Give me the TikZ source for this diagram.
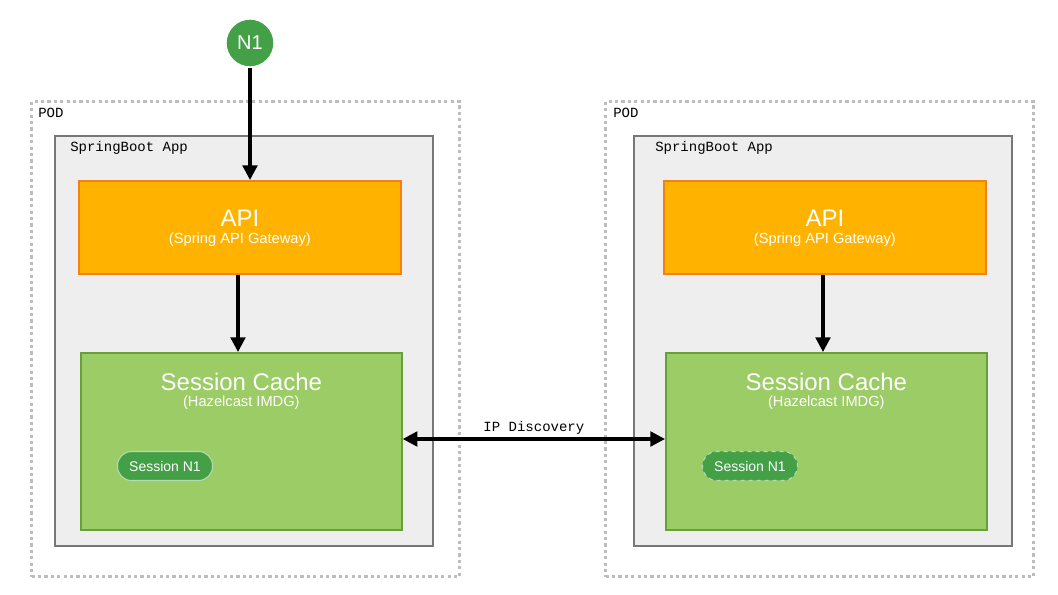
\documentclass[tikz,border=0pt]{standalone}
\usepackage{fontspec}
\setmainfont{Liberation Sans}
\newfontfamily\monofont{Liberation Mono}
\usetikzlibrary{positioning,calc,arrows.meta}
\definecolor{podgray}{HTML}{BDBDBD}
\definecolor{appgray}{HTML}{777777}
\definecolor{appfill}{HTML}{EEEEEE}
\definecolor{apifill}{HTML}{FFB300}
\definecolor{apiline}{HTML}{F57F17}
\definecolor{cachefill}{HTML}{9CCC65}
\definecolor{cacheline}{HTML}{689F38}
\definecolor{sessfill}{HTML}{43A047}
\tikzset{
  pod/.style={draw=podgray, line width=2.4pt, dash pattern=on 2.4pt off 2.4pt, minimum width=428*0.75pt, minimum height=475*0.75pt, anchor=north west},
  app/.style={draw=appgray, fill=appfill, line width=1.6pt, minimum width=378*0.75pt, minimum height=410*0.75pt, anchor=north west},
  api/.style={draw=apiline, fill=apifill, line width=1.3pt, minimum width=322*0.75pt, minimum height=93*0.75pt, anchor=north west},
  cache/.style={draw=cacheline, fill=cachefill, line width=1.3pt, minimum width=321*0.75pt, minimum height=177*0.75pt, anchor=north west},
  ttl/.style={text=white, font=\fontsize{18}{18}\selectfont},
  sub/.style={text=white, font=\fontsize{11}{12}\selectfont},
  mono/.style={font=\monofont\fontsize{10.5}{11}\selectfont, anchor=west, inner sep=0pt},
  sess/.style={draw=white!60!sessfill, fill=sessfill, text=white, rounded corners=10.5pt, line width=0.8pt, minimum width=95*0.75pt, minimum height=29*0.75pt, font=\fontsize{10.5}{11}\selectfont},
  arr/.style={-{Triangle[length=11pt,width=11pt]}, line width=2.4pt},
  darr/.style={{Triangle[length=11pt,width=11pt]}-{Triangle[length=11pt,width=11pt]}, line width=2.4pt}
}
\begin{document}
\begin{tikzpicture}[x=0.75pt,y=-0.75pt]
\useasboundingbox[fill=white] (0,0) rectangle (1058,595);
% left pod
\node[pod] (podl) at (30,100) {};
\node[mono] at (38,113) {POD};
\node[app] (appl) at (54,135) {};
\node[mono] at (70,148) {SpringBoot App};
\node[api] (apil) at (78,180) {};
\node[ttl] at ($(apil.north)+(0,38)$) {API};
\node[sub] at ($(apil.north)+(0,60)$) {(Spring API Gateway)};
\node[cache] (cachel) at (80,352) {};
\node[ttl] at ($(cachel.north)+(0,30)$) {Session Cache};
\node[sub] at ($(cachel.north)+(0,51)$) {(Hazelcast IMDG)};
\node[sess] (sessl) at (165,466) {Session N1};
% right pod
\node[pod] (podr) at (604,100) {};
\node[mono] at (613,113) {POD};
\node[app] (appr) at (633,135) {};
\node[mono] at (655,148) {SpringBoot App};
\node[api] (apir) at (663,180) {};
\node[ttl] at ($(apir.north)+(0,38)$) {API};
\node[sub] at ($(apir.north)+(0,60)$) {(Spring API Gateway)};
\node[cache] (cacher) at (665,352) {};
\node[ttl] at ($(cacher.north)+(0,30)$) {Session Cache};
\node[sub] at ($(cacher.north)+(0,51)$) {(Hazelcast IMDG)};
\node[sess, dashed] (sessr) at (750,466) {Session N1};
% client
\node[circle, draw=white, line width=1pt, fill=sessfill, minimum size=48*0.75pt, text=white, font=\fontsize{15}{15}\selectfont] (n1) at (250,43) {N1};
\coordinate (apiin) at (250,180);
%
\draw[arr] (n1) -- (apiin);
\draw[arr] (apil.south -| 238,0) -- (238,352);
\draw[arr] (apir.south -| 823,0) -- (823,352);
\draw[darr] (cachel.east |- 0,439) -- node[above, font=\monofont\fontsize{10.5}{11}\selectfont, inner sep=2pt] {IP Discovery} (cacher.west |- 0,439);
\end{tikzpicture}
\end{document}
